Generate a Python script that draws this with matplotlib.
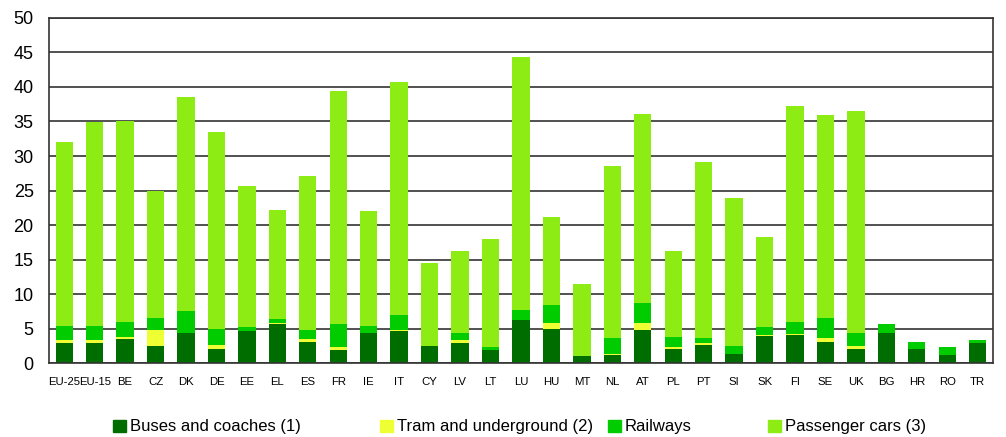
import matplotlib
matplotlib.use("Agg")
import matplotlib.pyplot as plt
import numpy as np
from matplotlib.patches import Patch

plt.rcParams['font.family'] = ['Liberation Sans', 'DejaVu Sans']

# countries
countries = ['EU-25', 'EU-15', 'BE', 'CZ', 'DK', 'DE', 'EE', 'EL', 'ES', 'FR', 'IE', 'IT', 'CY', 'LV', 'LT',
             'LU', 'HU', 'MT', 'NL', 'AT', 'PL', 'PT', 'SI', 'SK', 'FI', 'SE', 'UK', 'BG', 'HR', 'RO', 'TR']
# stacked components
buses = [2.9, 2.9, 3.5, 2.5, 4.4, 2.1, 4.6, 5.6, 3.1, 1.9, 4.4, 4.6, 2.5, 2.9, 1.9,
         6.2, 5.0, 1.0, 1.15, 4.8, 2.1, 2.7, 1.35, 3.9, 4.05, 3.1, 2.1, 4.4, 2.1, 1.15, 2.9]
trams = [0.4, 0.4, 0.3, 2.3, 0.0, 0.6, 0.1, 0.2, 0.4, 0.4, 0.0, 0.2, 0.0, 0.4, 0.0,
         0.0, 0.75, 0.0, 0.2, 0.95, 0.2, 0.2, 0.0, 0.15, 0.2, 0.6, 0.4, 0.0, 0.0, 0.0, 0.0]
railways = [2.1, 2.1, 2.1, 1.7, 3.1, 2.3, 0.5, 0.6, 1.3, 3.3, 1.0, 2.2, 0.0, 1.0, 0.4,
            1.5, 2.7, 0.0, 2.35, 2.9, 1.5, 0.8, 1.15, 1.15, 1.65, 2.8, 1.9, 1.2, 1.0, 1.15, 0.4]
cars = [26.7, 29.5, 29.1, 18.5, 31.1, 28.5, 20.4, 15.8, 22.3, 33.8, 16.6, 33.7, 12.0, 12.0, 15.7,
        36.6, 12.75, 10.45, 24.8, 27.45, 12.5, 25.5, 21.4, 13.0, 31.3, 29.4, 32.1, 0.0, 0.0, 0.0, 0.0]

labels = ['Buses and coaches (1)', 'Tram and underground (2)', 'Railways', 'Passenger cars (3)']
colors = ['#006d00', '#eeff33', '#00cc00', '#8cec14']

fig = plt.figure(figsize=(10.06, 4.37), dpi=100)
ax = fig.add_axes([0.0487, 0.169, 0.9383, 0.790])

x = np.arange(len(countries))
w = 0.57
bottom = np.zeros(len(countries))
series = [buses, trams, railways, cars]
for vals, c in zip(series, colors):
    ax.bar(x, vals, w, bottom=bottom, color=c, linewidth=0)
    bottom += np.array(vals)

ax.set_xlim(-0.5, len(countries) - 0.5)
ax.set_ylim(0, 50)
ax.set_yticks(range(0, 51, 5))
ax.set_xticks(x)
ax.set_xticklabels(countries, fontsize=8.2)
ax.tick_params(axis='y', length=0, pad=11, labelsize=13)
ax.tick_params(axis='x', length=0, pad=10)
ax.set_axisbelow(True)
ax.yaxis.grid(True, color='#333333', linewidth=1.2)
for s in ax.spines.values():
    s.set_color('#333333')
    s.set_linewidth(1.2)

# legend entries at their own positions
leg_x = [113, 380, 608, 768]
for lx, lab, c in zip(leg_x, labels, colors):
    lg = fig.legend(handles=[Patch(color=c, label=lab)], loc='center left',
                    bbox_to_anchor=(lx / 1006, 1 - 427 / 437), frameon=False,
                    fontsize=12, borderpad=0, borderaxespad=0,
                    handlelength=0.75, handleheight=0.75, handletextpad=0.25)

fig.savefig('out.png', dpi=100)
